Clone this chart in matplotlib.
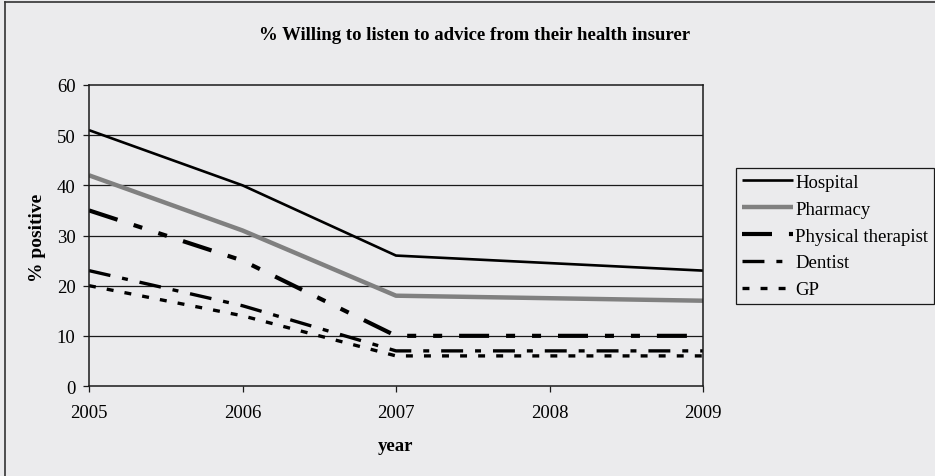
import matplotlib
matplotlib.use("Agg")
import matplotlib.pyplot as plt
from matplotlib.lines import Line2D

plt.rcParams['font.family'] = ['Liberation Serif', 'DejaVu Serif']
plt.rcParams['lines.scale_dashes'] = False

years = [2005, 2006, 2007, 2008, 2009]
hospital = [51, 40, 26, 24.5, 23]
pharmacy = [42, 31, 18, 17.5, 17]
physical_therapist = [35, 25, 10, 10, 10]
dentist = [23, 16, 7, 7, 7]
gp = [20, 14, 6, 6, 6]

series_names = ["Hospital", "Pharmacy", "Physical therapist", "Dentist", "GP"]
y_ticks = [0, 10, 20, 30, 40, 50, 60]

bg = '#ebebed'
fig = plt.figure(figsize=(9.35, 4.77), dpi=100, facecolor=bg)
ax = fig.add_axes([89/935, 1-387/477, (703-89)/935, (387-86)/477])
ax.set_facecolor(bg)

styles = [
    dict(color='black', lw=1.9, ls='-'),
    dict(color='#808080', lw=3.2, ls='-'),
    dict(color='black', lw=3.0, ls=(0, (21.6, 12.2, 6.5, 12.2, 6.5, 12.2)), dash_capstyle='butt'),
    dict(color='black', lw=2.4, ls=(0, (15.8, 8.6, 4.3, 8.6)), dash_capstyle='butt'),
    dict(color='black', lw=2.4, ls=(0, (5, 8)), dash_capstyle='butt'),
]
for name, vals, st in zip(series_names,
                          [hospital, pharmacy, physical_therapist, dentist, gp],
                          styles):
    ax.plot(years, vals, label=name, solid_capstyle='butt', **st)

ax.set_xlim(years[0], years[-1])
ax.set_ylim(0, 60)
ax.set_xticks(years)
ax.set_yticks(y_ticks)
for y in y_ticks[1:-1]:
    ax.axhline(y, color='#1a1a1a', lw=0.9, zorder=0.5)

for s in ax.spines.values():
    s.set_color('#1a1a1a')
    s.set_linewidth(1.1)

ax.tick_params(axis='both', direction='out', length=4.3, width=0.9,
               color='#1a1a1a', labelsize=13.5)
ax.tick_params(axis='y', pad=5.5)
ax.tick_params(axis='x', pad=9)

fig.text(37/935, 1-238/477, '% positive', rotation=90, ha='center', va='center',
         fontsize=14, fontweight='bold')
fig.text(396/935, 1-447/477, 'year', ha='center', va='center',
         fontsize=13.5, fontweight='bold')
fig.text(475/935, 1-35/477, '% Willing to listen to advice from their health insurer',
         ha='center', va='center', fontsize=13.5, fontweight='bold')

leg = ax.legend(loc='upper left', bbox_to_anchor=(736/935, 1-169/477),
                bbox_transform=fig.transFigure, fontsize=13.5, frameon=True,
                fancybox=False, edgecolor='#1a1a1a', facecolor=bg,
                handlelength=2.75, handletextpad=0.1, labelspacing=0.52,
                borderpad=0.3, borderaxespad=0)
leg.get_frame().set_linewidth(0.9)
leg.get_frame().set_alpha(None)

# outer frame lines along the top and left edges
fig.add_artist(Line2D([5/935, 5/935], [0, 1-3/477], transform=fig.transFigure,
                      color='#333333', lw=1.2))
fig.add_artist(Line2D([5/935, 1], [1-3/477, 1-3/477], transform=fig.transFigure,
                      color='#333333', lw=1.2))

fig.savefig('out.png', dpi=100, facecolor=bg)
